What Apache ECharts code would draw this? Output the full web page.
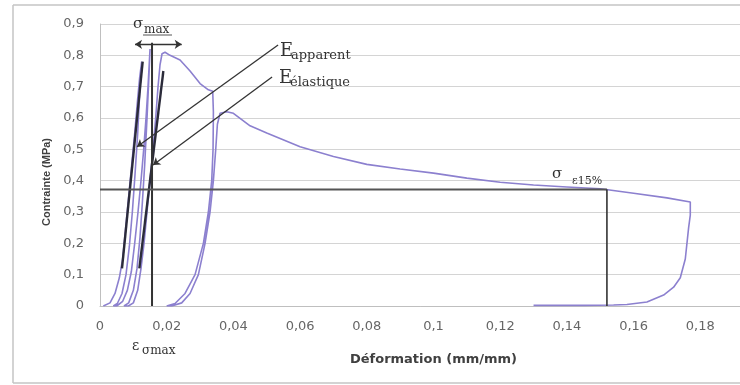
<!DOCTYPE html>
<html><head><meta charset="utf-8">
<script src="https://cdn.jsdelivr.net/npm/echarts@6/dist/echarts.min.js"></script>
<style>html,body{margin:0;padding:0;background:#fff;overflow:hidden}#c{width:740px;height:385px}</style>
</head><body><div id="c"></div>
<script>
// Purple stress-strain curve (cyclic loading), strain (mm/mm) and stress (MPa)
const curveStrain = [
  0.0010,0.0030,0.0045,0.0058,0.0068,0.0077,0.0086,0.0095,0.0104,0.0112,0.0119,0.0125,
  0.0120,0.0113,0.0105,0.0097,0.0088,0.0078,0.0066,0.0052,0.0040,
  0.0050,0.0068,0.0082,0.0094,0.0104,0.0114,0.0123,0.0131,0.0138,0.0144,0.0148,0.0150,
  0.0147,0.0141,0.0134,0.0127,0.0120,0.0111,0.0100,0.0086,0.0072,
  0.0085,0.0100,0.0113,0.0123,0.0132,0.0141,0.0150,0.0159,0.0167,0.0174,0.0180,0.0186,0.0195,0.0210,0.0240,0.0270,0.0300,0.0325,0.0338,
  0.0340,0.0339,0.0335,0.0325,0.0310,0.0285,0.0255,0.0225,0.0200,
  0.0215,0.0245,0.0270,0.0295,0.0315,0.0330,0.0340,0.0347,0.0352,0.0360,0.0380,0.0400,0.0450,0.0500,0.0600,0.0700,0.0800,0.0900,0.1000,0.1100,0.1200,0.1300,0.1400,0.1500,0.1600,0.1700,0.1770,
  0.1770,0.1765,0.1755,0.1740,0.1720,0.1690,0.1640,0.1580,0.1540,0.1450,0.1300
];
const curveStress = [
  0,0.01,0.04,0.09,0.15,0.25,0.35,0.45,0.55,0.65,0.73,0.78,
  0.70,0.55,0.42,0.30,0.19,0.10,0.04,0.008,0,
  0,0.015,0.05,0.11,0.20,0.30,0.40,0.50,0.60,0.70,0.78,0.82,
  0.74,0.60,0.45,0.33,0.22,0.12,0.05,0.01,0,
  0,0.01,0.05,0.12,0.20,0.30,0.40,0.50,0.60,0.70,0.77,0.805,0.81,0.80,0.785,0.75,0.71,0.69,0.685,
  0.62,0.50,0.40,0.30,0.20,0.10,0.04,0.008,0,
  0,0.01,0.04,0.10,0.20,0.30,0.40,0.50,0.58,0.615,0.62,0.615,0.575,0.552,0.508,0.477,0.452,0.437,0.424,0.408,0.395,0.386,0.380,0.374,0.360,0.345,0.332,
  0.29,0.25,0.15,0.09,0.06,0.035,0.013,0.005,0.003,0.002,0.002
];
// Black construction lines
const eApparentX = [0.0066, 0.0128];
const eApparentY = [0.12, 0.78];
const eElastiqueX = [0.0118, 0.0190];
const eElastiqueY = [0.12, 0.75];
const epsSigmaMaxX = [0.0156, 0.0156];
const epsSigmaMaxY = [0, 0.84];
const sigma15X = [0, 0.152];
const sigma15Y = [0.372, 0.372];
const eps15X = [0.152, 0.152];
const eps15Y = [0.372, 0];
// Annotation arrows [x1,y1,x2,y2]
const arrowApparent = [0.0534, 0.833, 0.0111, 0.508];
const arrowElastique = [0.0516, 0.731, 0.0159, 0.450];
const arrowSigmaMax = [0.0105, 0.835, 0.0245, 0.835];

const pairs = (xs, ys) => xs.map((x, i) => [x, ys[i]]);
const fmt = v => v === 0 ? '0' : String(+v.toFixed(2)).replace('.', ',');

const chart = echarts.init(document.getElementById('c'), null, {renderer: 'canvas'});
const blackLine = (name, xs, ys, w, c) => ({
  name, type: 'line', data: pairs(xs, ys), showSymbol: false, symbol: 'none',
  lineStyle: {color: c, width: w}, z: 3, silent: true, animation: false
});
const serif = 'DejaVu Serif';
const txt = (text, x, y, size) => ({
  type: 'text', x, y, z: 10,
  style: {text, fontFamily: serif, fontSize: size, fill: '#333', verticalAlign: 'middle', textAlign: 'left'}
});
const frame = (x1, y1, x2, y2) => ({type: 'line', shape: {x1, y1, x2, y2}, style: {stroke: '#c4c4c4', lineWidth: 1.5}, z: -10});

chart.setOption({
  animation: false,
  grid: {left: 100, top: 24, width: 667, height: 282, outerBoundsMode: 'none', containLabel: false},
  xAxis: {
    type: 'value', min: 0, max: 0.2, interval: 0.02,
    name: 'Déformation (mm/mm)', nameLocation: 'middle', nameGap: 47,
    nameTextStyle: {fontFamily: 'DejaVu Sans', fontWeight: 'bold', fontSize: 13, color: '#404040'},
    axisLine: {show: true, lineStyle: {color: '#bfbfbf', width: 1}},
    axisTick: {show: false},
    splitLine: {show: false},
    axisLabel: {formatter: fmt, fontFamily: 'DejaVu Sans', fontSize: 13, color: '#666', margin: 14}
  },
  yAxis: {
    type: 'value', min: 0, max: 0.9, interval: 0.1,
    axisLine: {show: true, lineStyle: {color: '#bfbfbf', width: 1}},
    axisTick: {show: false},
    splitLine: {show: true, lineStyle: {color: '#d4d4d4', width: 1.2}},
    axisLabel: {formatter: fmt, fontFamily: 'DejaVu Sans', fontSize: 13, color: '#666', margin: 16}
  },
  graphic: [
    frame(13, 5, 740, 5), frame(13, 5, 13, 383), frame(13, 383, 740, 383),
    {type: 'text', x: 47, y: 182, rotation: Math.PI / 2, z: 10,
     style: {text: 'Contrainte (MPa)', fontFamily: 'Liberation Sans', fontWeight: 'bold', fontSize: 11, fill: '#404040', textAlign: 'center', verticalAlign: 'middle'}},
    txt('σ', 133, 24, 15), txt('max', 144, 30, 12),
    {type: 'line', shape: {x1: 143, y1: 35, x2: 172, y2: 35}, style: {stroke: '#555', lineWidth: 1}, z: 10},
    txt('E', 280, 51, 18), txt('apparent', 291, 56, 13),
    txt('E', 279, 78, 18), txt('élastique', 290, 83, 13),
    txt('σ', 552, 174, 15), txt('ε15%', 572, 181, 11),
    txt('ε', 132, 346, 14), txt('σmax', 142, 351, 12)
  ],
  series: [
    {
      name: 'Courbe', type: 'line', data: pairs(curveStrain, curveStress),
      showSymbol: false, symbol: 'none', smooth: false,
      lineStyle: {color: '#8c80cf', width: 1.6}, z: 2, silent: true
    },
    blackLine('E apparent', eApparentX, eApparentY, 2.4, '#2b2b3a'),
    blackLine('E élastique', eElastiqueX, eElastiqueY, 2.4, '#2b2b3a'),
    blackLine('ε σmax', epsSigmaMaxX, epsSigmaMaxY, 2, '#333'),
    blackLine('σ ε15%', sigma15X, sigma15Y, 2, '#555'),
    blackLine('ε15%', eps15X, eps15Y, 1.6, '#333'),
    {
      name: 'Flèches', type: 'lines', coordinateSystem: 'cartesian2d', z: 4, silent: true,
      symbol: ['none', 'arrow'], symbolSize: 7,
      lineStyle: {color: '#333', width: 1.3, opacity: 1},
      data: [
        {coords: [[arrowApparent[0], arrowApparent[1]], [arrowApparent[2], arrowApparent[3]]]},
        {coords: [[arrowElastique[0], arrowElastique[1]], [arrowElastique[2], arrowElastique[3]]]},
        {coords: [[arrowSigmaMax[0], arrowSigmaMax[1]], [arrowSigmaMax[2], arrowSigmaMax[3]]], symbol: ['arrow', 'arrow']}
      ]
    }
  ]
});
</script></body></html>
